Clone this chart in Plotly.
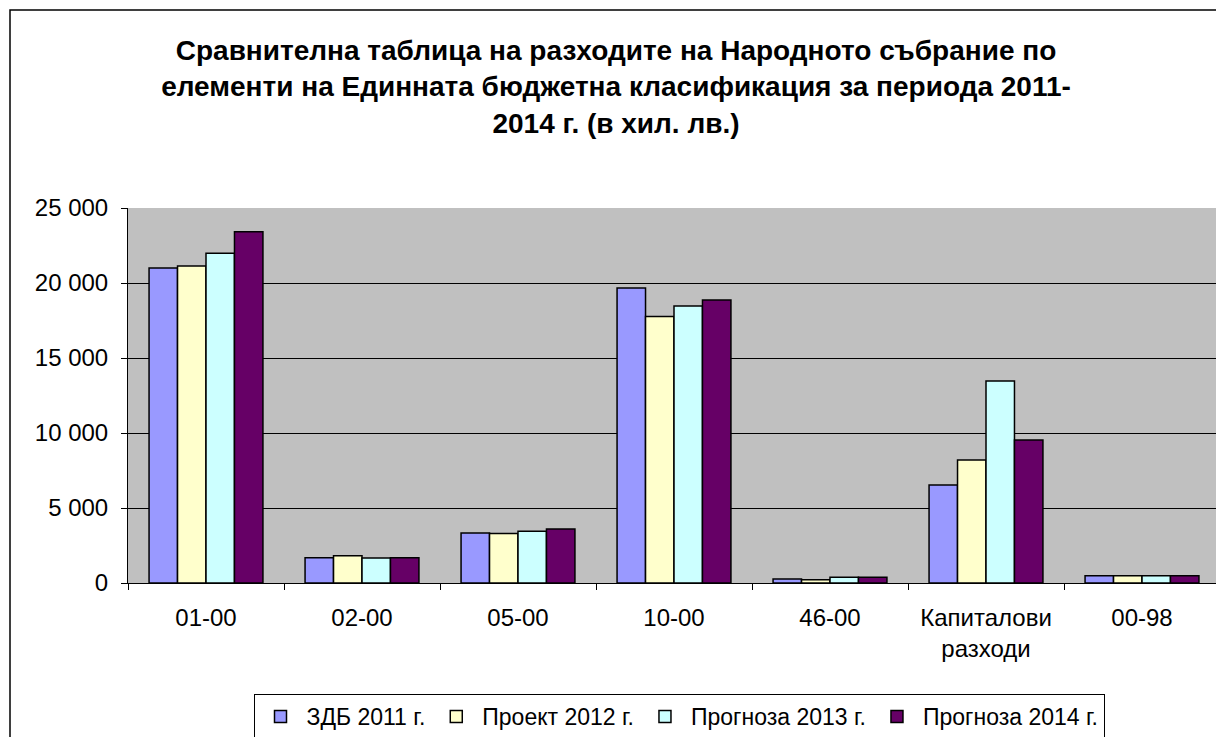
import plotly.graph_objects as go

categories = ["01-00", "02-00", "05-00", "10-00", "46-00", "Капиталови<br>разходи", "00-98"]
series_names = ["ЗДБ 2011 г.", "Проект 2012 г.", "Прогноза 2013 г.", "Прогноза 2014 г."]
zdb_2011 = [21000, 1690, 3330, 19670, 270, 6530, 490]
proekt_2012 = [21130, 1820, 3300, 17760, 220, 8200, 480]
prognoza_2013 = [21980, 1670, 3450, 18470, 380, 13470, 480]
prognoza_2014 = [23420, 1690, 3600, 18870, 380, 9530, 490]
colors = ["#9999FF", "#FFFFCC", "#CCFFFF", "#660066"]
y_ticks = [0, 5000, 10000, 15000, 20000, 25000]

title = ("Сравнителна таблица на разходите на Народното събрание по<br>"
         "елементи на Единната бюджетна класификация за периода 2011-<br>"
         "2014 г. (в хил. лв.)")

fig = go.Figure()
for name, vals, col in zip(series_names, [zdb_2011, proekt_2012, prognoza_2013, prognoza_2014], colors):
    fig.add_trace(go.Bar(x=categories, y=vals, name=name,
                         marker=dict(color=col, line=dict(color="black", width=1.5))))

OFF = 8  # page body margin
W, H = 1224 - OFF, 737 - OFF
L, T = 128 - OFF, 208 - OFF
plot_right = 1220 - OFF
plot_bottom = 583 - OFF
R = W - plot_right
B = H - plot_bottom
pw = plot_right - L
ph = plot_bottom - T

FONT = "Liberation Sans, Arial, sans-serif"

fig.update_layout(
    width=W, height=H,
    margin=dict(l=L, r=R, t=T, b=B, pad=0, autoexpand=False),
    paper_bgcolor="white",
    plot_bgcolor="#C0C0C0",
    font=dict(family=FONT, size=24, color="black"),
    separators=", ",
    barmode="group",
    bargap=0.27,
    bargroupgap=0,
    title=dict(text="<b>" + title + "</b>", x=(616 - OFF) / W, xanchor="center",
               yref="container", y=1 - 52 / H, yanchor="top",
               font=dict(size=28, family=FONT)),
    showlegend=True,
    legend=dict(orientation="h", xref="container", yref="container",
                x=(679 - OFF) / W, xanchor="center",
                y=1 - (694 - OFF) / H, yanchor="top",
                bordercolor="black", borderwidth=1, bgcolor="white",
                font=dict(size=23), itemwidth=42, traceorder="normal"),
    xaxis=dict(type="category", tickson="boundaries", ticks="outside", ticklen=6,
               tickcolor="black", showline=True, linecolor="black", linewidth=1,
               showgrid=False, tickfont=dict(size=24), ticklabelstandoff=13,
               automargin=False),
    yaxis=dict(range=[0, 25000], tickvals=y_ticks, tickformat=",d", ticks="outside",
               ticklen=6, tickcolor="black", showline=True, linecolor="black",
               linewidth=1, showgrid=True, gridcolor="black", gridwidth=1,
               zeroline=False, tickfont=dict(size=24), ticklabelstandoff=8,
               automargin=False),
)

fig.add_shape(type="rect", xref="paper", yref="paper",
              x0=(10 - 128) / pw, x1=(1222 - 128) / pw,
              y0=(583 - 760) / ph, y1=(583 - 10) / ph,
              line=dict(color="black", width=1.5), fillcolor="rgba(0,0,0,0)", layer="below")

fig.write_html("out.html")
